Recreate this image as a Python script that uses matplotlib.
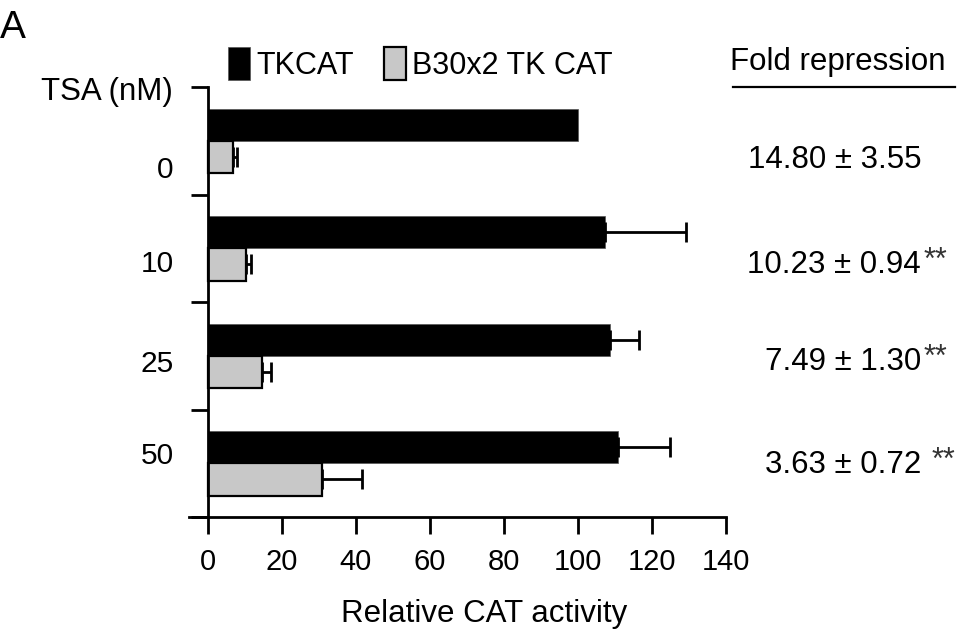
#!/usr/bin/env python3
# plot.py -- relative CAT activity under TSA, TKCAT vs B30x2 TK CAT (panel A)

import matplotlib
matplotlib.use("Agg")
import matplotlib.pyplot as plt
from matplotlib.lines import Line2D
from matplotlib.transforms import blended_transform_factory

plt.rcParams["font.family"] = ["Liberation Sans", "DejaVu Sans"]

TSA_DOSES = ["0", "10", "25", "50"]
TKCAT = [100.0, 107.2, 108.8, 110.8]
TKCAT_ERR = [0.0, 22.1, 7.8, 14.0]
B30 = [6.8, 10.4, 14.8, 31.0]
B30_ERR = [1.2, 1.4, 2.4, 10.8]
FOLD_TEXT = ["14.80 \u00b1 3.55", "10.23 \u00b1 0.94", "7.49 \u00b1 1.30", "3.63 \u00b1 0.72"]
FOLD_STARS = ["", "**", "**", "**"]
XTICKS = [0, 20, 40, 60, 80, 100, 120, 140]

# layout (pixels / offsets)
W, H = 961, 631
LABEL_DY = [0.27, 0.15, 0.08, -0.07]
FOLD_DY = [0.18, 0.16, 0.06, 0.02]
STAR_DX = [0, 0, 0, 8]
GRAY = "#c8c8c8"

fig = plt.figure(figsize=(W / 100, H / 100), dpi=100)
ax = fig.add_axes([189 / W, 1 - 517 / H, (726 - 189) / W, (517 - 87) / H])

n = len(TSA_DOSES)
y_black = [i + 0.35 for i in range(n)]
y_gray = [i + 0.65 for i in range(n)]
ax.barh(y_black, TKCAT, height=0.30, color="black", edgecolor="#555555",
        linewidth=0.5, label="TKCAT")
ax.barh(y_gray, B30, height=0.30, color=GRAY, edgecolor="black",
        linewidth=1.6, label="B30x2 TK CAT")

# one-sided error bars, only where an error was measured
for ys, vals, errs in ((y_black, TKCAT, TKCAT_ERR), (y_gray, B30, B30_ERR)):
    keep = [i for i in range(n) if errs[i] > 0]
    ax.errorbar([vals[i] for i in keep], [ys[i] for i in keep],
                xerr=[[0] * len(keep), [errs[i] for i in keep]],
                fmt="none", ecolor="black", elinewidth=2, capthick=2, capsize=7.5)

ax.set_xlim(-5, 140)
ax.set_ylim(n, 0)
ax.spines["left"].set_position(("data", 0))
for s in ("top", "right"):
    ax.spines[s].set_visible(False)
for s in ("left", "bottom"):
    ax.spines[s].set_linewidth(2)
ax.set_xticks(XTICKS)
ax.set_yticks(range(n + 1))
ax.set_yticklabels([])
ax.tick_params(axis="both", direction="out", length=12.5, width=2)
ax.tick_params(axis="x", labelsize=21, pad=10)

for i, lab in enumerate(TSA_DOSES):
    ax.text(-9.2, i + 0.5 + LABEL_DY[i], lab, ha="right", va="center", fontsize=21.5)

fig.text(173 / W, 1 - 92 / H, "TSA (nM)", ha="right", va="center", fontsize=22.5)
fig.text(0, 1 - 28 / H, "A", ha="left", va="center", fontsize=28)
fig.text(484 / W, 1 - 614 / H, "Relative CAT activity", ha="center", va="center",
         fontsize=22.5)

# fold repression column
fig.text(838 / W, 1 - 62 / H, "Fold repression", ha="center", va="center", fontsize=22.5)
fig.add_artist(Line2D([733 / W, 955 / W], [1 - 87 / H, 1 - 87 / H],
                      color="black", linewidth=1.6))
tr = blended_transform_factory(fig.transFigure, ax.transData)
for i, (t, st) in enumerate(zip(FOLD_TEXT, FOLD_STARS)):
    yy = i + 0.5 + FOLD_DY[i]
    ax.text(921 / W, yy, t, ha="right", va="center", fontsize=22.5,
            transform=tr, clip_on=False)
    if st:
        ax.text((924 + STAR_DX[i]) / W, yy - 0.04, st, ha="left", va="center",
                fontsize=22, color="#333333", transform=tr, clip_on=False)

fig.legend(loc="center left", bbox_to_anchor=(228 / W, 1 - 64 / H), ncol=2,
           frameon=False, fontsize=22, handlelength=0.72, handleheight=1.3,
           handletextpad=0.2, columnspacing=1.0, borderaxespad=0, borderpad=0)

fig.savefig("out.png", dpi=100)
